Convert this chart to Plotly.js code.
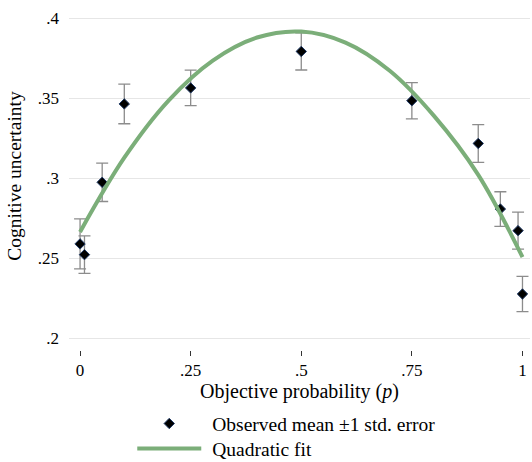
<!DOCTYPE html>
<html>
<head>
<meta charset="utf-8">
<script src="https://cdn.plot.ly/plotly-3.0.1.min.js"></script>
<style>html,body{margin:0;padding:0;background:#fff;}#chart{width:532px;height:462px;}</style>
</head>
<body>
<div id="chart"></div>
<script>
// Observed means
const probX = [0, 0.01, 0.05, 0.1, 0.25, 0.5, 0.75, 0.9, 0.95, 0.99, 1];
const meanY = [0.2588, 0.2521, 0.2973, 0.3463, 0.3563, 0.3791, 0.3483, 0.3216, 0.2806, 0.2671, 0.2275];
const stdErr = [0.0156, 0.0117, 0.0120, 0.0124, 0.0111, 0.0116, 0.0113, 0.0118, 0.0108, 0.0116, 0.0110];
// Quadratic fit curve
const fitX = [0, 0.1, 0.2, 0.3, 0.4, 0.5, 0.6, 0.7, 0.8, 0.9, 1];
const fitY = [0.2663, 0.3127, 0.3484, 0.3734, 0.3878, 0.3915, 0.3846, 0.3670, 0.3388, 0.3020, 0.2506];
// Tick labels
const xTickVals = [0, 0.25, 0.5, 0.75, 1];
const xTickText = ["0", ".25", ".5", ".75", "1"];
const yTickVals = [0.2, 0.25, 0.3, 0.35, 0.4];
const yTickText = [".2", ".25", ".3", ".35", ".4"];

const serif = "Liberation Serif, Times New Roman, serif";

const traces = [
  {
    x: probX, y: meanY, type: "scatter", mode: "markers",
    name: "Observed mean ±1 std. error",
    marker: {symbol: "diamond", size: 8, color: "#000000", line: {color: "#1f3a66", width: 1}},
    error_y: {type: "data", array: stdErr, visible: true, color: "#8c8c8c", thickness: 1.3, width: 6}
  },
  {
    x: fitX, y: fitY, type: "scatter", mode: "lines",
    name: "Quadratic fit",
    line: {color: "#7bae79", width: 4, shape: "spline"}
  }
];

const layout = {
  width: 532, height: 462,
  margin: {l: 69, r: 2, t: 2, b: 112, autoexpand: false},
  paper_bgcolor: "#ffffff", plot_bgcolor: "#ffffff",
  font: {family: serif, size: 17, color: "#000000"},
  showlegend: true,
  legend: {
    orientation: "v", x: 0.224, xanchor: "left", y: -0.155, yanchor: "top",
    font: {family: serif, size: 19.5, color: "#000"}, bgcolor: "rgba(0,0,0,0)"
  },
  xaxis: {
    range: [-0.025, 1.017], tickvals: xTickVals, ticktext: xTickText,
    showgrid: false, zeroline: false, showline: false,
    ticks: "outside", ticklen: 5, tickcolor: "#333", tickwidth: 1,
    tickfont: {family: serif, size: 17},
    title: {text: "Objective probability (<i>p</i>)", font: {family: serif, size: 20}, standoff: 0}
  },
  yaxis: {
    range: [0.1925, 0.41], tickvals: yTickVals, ticktext: yTickText,
    showgrid: true, gridcolor: "#e6e6e6", gridwidth: 1,
    zeroline: false, showline: false, ticks: "", ticklabelstandoff: 9,
    tickfont: {family: serif, size: 17},
    title: {text: "Cognitive uncertainty", font: {family: serif, size: 19.5}, standoff: 10}
  }
};

function appendShift(el, dx, dy) {
  const t = el.getAttribute("transform") || "";
  el.setAttribute("transform", t + " translate(" + dx + "," + dy + ")");
}

Plotly.newPlot("chart", traces, layout, {displayModeBar: false, staticPlot: true}).then(function (gd) {
  try {
    // let the legend samples extend past the legend box
    gd.querySelectorAll(".legend [clip-path]").forEach(function (el) { el.removeAttribute("clip-path"); });
    const items = gd.querySelectorAll(".legend .traces");
    const targetY = [423.5, 448.5];
    items.forEach(function (item, i) {
      const txt = item.querySelector("text.legendtext");
      const textLeft = txt.getBoundingClientRect().left;
      const symX = textLeft - 43; // symbol centre, as in the reference
      const pt = item.querySelector("path.scatterpts");
      const ln = item.querySelector("path.js-line");
      let cy = null;
      if (pt) {
        const r = pt.getBoundingClientRect();
        appendShift(pt, symX - (r.left + r.width / 2), 0);
        cy = r.top + r.height / 2;
      }
      if (ln) {
        const ctm = ln.getScreenCTM();
        const lx = (symX - ctm.e) / ctm.a;
        ln.setAttribute("d", "M" + (lx - 32) + ",0h64");
        const r = ln.getBoundingClientRect();
        cy = r.top + r.height / 2;
      }
      if (cy !== null && targetY[i] !== undefined) {
        appendShift(item, 0, targetY[i] - cy);
      }
    });
  } catch (e) { /* keep default legend */ }
});
</script>
</body>
</html>
